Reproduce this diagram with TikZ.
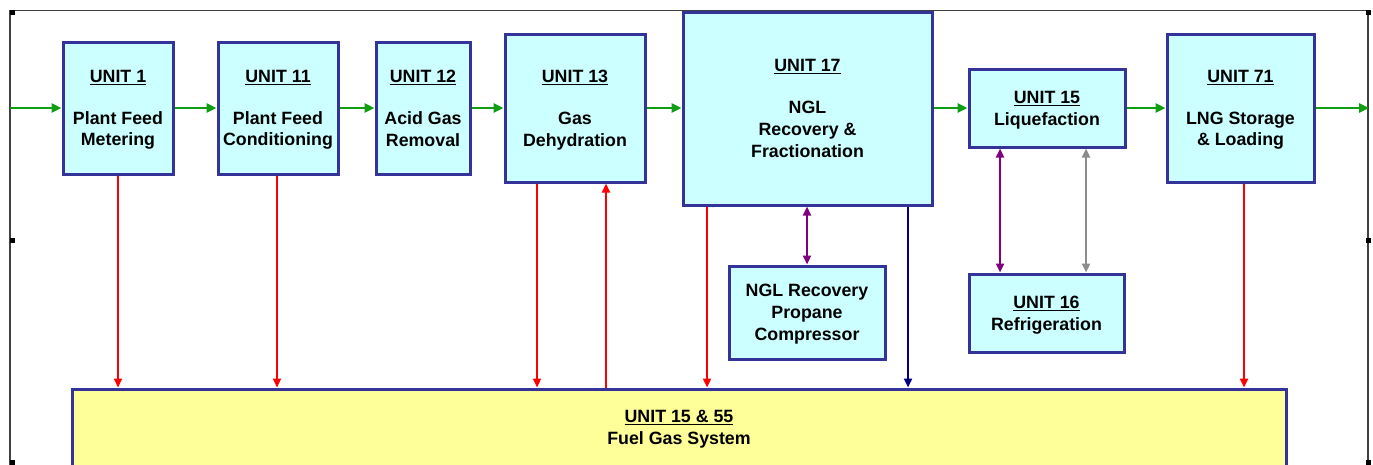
\documentclass[tikz,border=0pt]{standalone}
\usepackage{fontspec}
\setmainfont{Liberation Sans}
\usetikzlibrary{arrows.meta}

\definecolor{unitCyan}{HTML}{CCFFFF}
\definecolor{unitBlue}{HTML}{333399}
\definecolor{fuelYellow}{HTML}{FFFF99}
\definecolor{feedGreen}{HTML}{129E12}
\definecolor{fuelRed}{HTML}{FF0000}
\definecolor{refPurple}{HTML}{800080}
\definecolor{refGray}{HTML}{8C8C8C}
\definecolor{ventNavy}{HTML}{000080}

\begin{document}
\begin{tikzpicture}[
        x=1pt, y=-1pt,
        unitNode/.style={rectangle, draw=unitBlue, fill=unitCyan, line width=3pt, inner sep=0pt,
            text depth=-3pt, align=center, font=\fontsize{17.8}{21.8}\selectfont\bfseries},
        fuelNode/.style={unitNode, fill=fuelYellow},
        feedArrow/.style={-{Triangle[length=10pt,width=9pt]}, draw=feedGreen, line width=2.6pt},
        fuelArrow/.style={-{Triangle[length=9pt,width=8pt]}, draw=fuelRed, line width=2.2pt},
        ventArrow/.style={-{Triangle[length=9pt,width=8pt]}, draw=ventNavy, line width=2.2pt},
        refArrow/.style={{Triangle[length=9pt,width=8pt]}-{Triangle[length=9pt,width=8pt]}, line width=2.2pt}
    ]
        \useasboundingbox (0,0) rectangle (1373,464);

        % Frame and handles
        \draw[black!75, line width=1.2pt] (10,470) |- (1368,10.5) -- (1368,470);
        \foreach \hx/\hy in {12/12, 690/13, 1368/12, 12/240, 1368/240, 12/462, 690/462, 1368/462}
            \fill (\hx-2.5,\hy-2.5) rectangle ++(5,5);

        % Process units
        \node[unitNode, minimum width=110pt, minimum height=132pt] (u1) at (118,108)
            {\underline{UNIT 1}\\[20pt] Plant Feed\\ Metering};
        \node[unitNode, minimum width=120pt, minimum height=132pt] (u11) at (278,108)
            {\underline{UNIT 11}\\[20pt] Plant Feed\\ Conditioning};
        \node[unitNode, minimum width=94pt, minimum height=132pt] (u12) at (423,108)
            {\underline{UNIT 12}\\[20pt] Acid Gas\\ Removal};
        \node[unitNode, minimum width=140pt, minimum height=148pt] (u13) at (575,108)
            {\underline{UNIT 13}\\[20pt] Gas\\ Dehydration};
        \node[unitNode, minimum width=249pt, minimum height=193pt] (u17) at (807.5,108.5)
            {\underline{UNIT 17}\\[20pt] NGL\\ Recovery \&\\ Fractionation};
        \node[unitNode, minimum width=156pt, minimum height=78pt] (u15) at (1047,108)
            {\underline{UNIT 15}\\ Liquefaction};
        \node[unitNode, minimum width=147pt, minimum height=148pt] (u71) at (1240.5,108)
            {\underline{UNIT 71}\\[20pt] LNG Storage\\ \& Loading};

        % Support units
        \node[unitNode, minimum width=156pt, minimum height=93pt] (comp) at (807,312.5)
            {NGL Recovery\\ Propane\\ Compressor};
        \node[unitNode, minimum width=155pt, minimum height=78pt] (u16) at (1046.5,313)
            {\underline{UNIT 16}\\ Refrigeration};
        \node[fuelNode, minimum width=1214pt, minimum height=77pt] (fuel) at (679,427.5)
            {\underline{UNIT 15 \& 55}\\ Fuel Gas System};

        % Feed gas line
        \coordinate (feedIn) at (10,108);
        \coordinate (lngOut) at (1369,108);
        \draw[feedArrow] (feedIn) -- (feedIn -| u1.west);
        \draw[feedArrow] (u1.east |- feedIn) -- (feedIn -| u11.west);
        \draw[feedArrow] (u11.east |- feedIn) -- (feedIn -| u12.west);
        \draw[feedArrow] (u12.east |- feedIn) -- (feedIn -| u13.west);
        \draw[feedArrow] (u13.east |- feedIn) -- (feedIn -| u17.west);
        \draw[feedArrow] (u17.east |- feedIn) -- (feedIn -| u15.west);
        \draw[feedArrow] (u15.east |- feedIn) -- (feedIn -| u71.west);
        \draw[feedArrow] (u71.east |- feedIn) -- (lngOut);

        % Fuel gas connections
        \coordinate (d13) at ([xshift=-38pt]u13.south);
        \coordinate (r13) at ([xshift=31pt]u13.south);
        \coordinate (d17) at ([xshift=-100.5pt]u17.south);
        \coordinate (v17) at ([xshift=100.5pt]u17.south);
        \coordinate (d71) at ([xshift=3.5pt]u71.south);
        \draw[fuelArrow] (u1) -- (u1.south |- fuel.north);
        \draw[fuelArrow] ([xshift=-1pt]u11.south) -- ([xshift=-1pt]u11.south |- fuel.north);
        \draw[fuelArrow] (d13) -- (d13 |- fuel.north);
        \draw[fuelArrow] (r13 |- fuel.north) -- (r13);
        \draw[fuelArrow] (d17) -- (d17 |- fuel.north);
        \draw[ventArrow] (v17) -- (v17 |- fuel.north);
        \draw[fuelArrow] (d71) -- (d71 |- fuel.north);

        % Refrigerant loops
        \coordinate (p15) at ([xshift=-47pt]u15.south);
        \coordinate (g15) at ([xshift=39pt]u15.south);
        \draw[refArrow, draw=refPurple] (comp.north |- u17.south) -- (comp);
        \draw[refArrow, draw=refPurple] (p15) -- (p15 |- u16.north);
        \draw[refArrow, draw=refGray] (g15) -- (g15 |- u16.north);
    \end{tikzpicture}
\end{document}
